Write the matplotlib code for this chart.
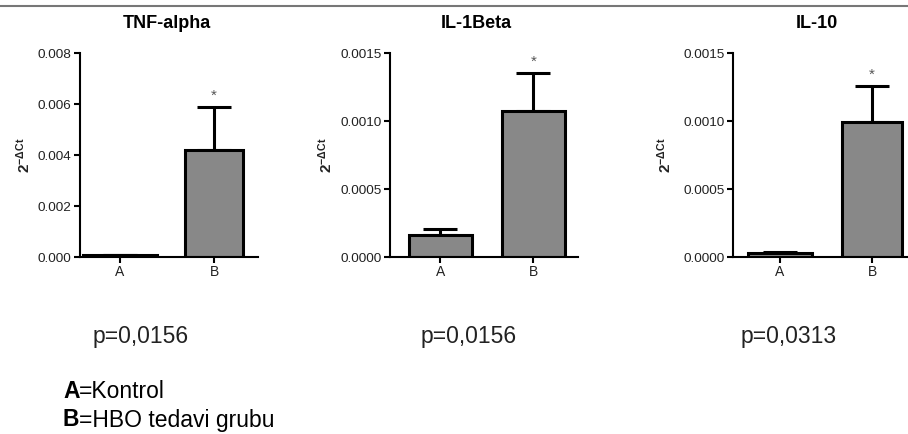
import numpy as np
import matplotlib.pyplot as plt
from matplotlib.lines import Line2D

plt.rcParams['font.family'] = ['Liberation Sans', 'DejaVu Sans']
plt.rcParams['mathtext.fontset'] = 'custom'
plt.rcParams['mathtext.rm'] = 'Liberation Sans'
plt.rcParams['mathtext.bf'] = 'Liberation Sans:bold'
plt.rcParams['mathtext.it'] = 'Liberation Sans'

#data
groups = ['A', 'B']
titles = ['TNF-alpha', 'IL-1Beta', 'IL-10']
means = [[0.00007, 0.0042], [0.000162, 0.00107], [0.00003, 0.000995]]
errors = [[0.00001, 0.00168], [0.000044, 0.00028], [0.00001, 0.000265]]
p_values = ['p=0,0156', 'p=0,0156', 'p=0,0313']
y_max = [0.008, 0.0015, 0.0015]
y_ticks = [[0.000, 0.002, 0.004, 0.006, 0.008],
           [0.0000, 0.0005, 0.0010, 0.0015],
           [0.0000, 0.0005, 0.0010, 0.0015]]
tick_fmt = ['%.3f', '%.4f', '%.4f']

#layout in pixels
W, H = 908, 434
fig = plt.figure(figsize=(W / 100, H / 100), dpi=100)
ax_left = [80, 390, 733]
ax_right = [258, 578, 908]
xlims = [(-0.426, 1.468), (-0.54, 1.48), (-0.51, 1.39)]
widths = [[0.79, 0.62], [0.68, 0.67], [0.69, 0.65]]
label_x = [33, 335, 674]
title_x = [167, 476, 817]
p_x = [93, 421, 741]

for i in range(3):
    ax = fig.add_axes([ax_left[i] / W, 1 - 257 / H, (ax_right[i] - ax_left[i]) / W, 204 / H])
    x = np.arange(len(groups))
    ax.bar(x, means[i], width=widths[i], color='#888888', edgecolor='black', linewidth=2.2, zorder=2)
    for j in range(2):
        ax.errorbar(x[j], means[i][j], yerr=[[0], [errors[i][j]]], fmt='none', ecolor='black',
                    elinewidth=2.2, capsize=12, capthick=2.2, zorder=1)
    # star above B
    ax.annotate('*', (x[1], means[i][1] + errors[i][1]), xytext=(0, 3), textcoords='offset points',
                ha='center', va='bottom', fontsize=11, color='#555555')
    ax.set_xlim(xlims[i])
    ax.set_ylim(0, y_max[i])
    ax.set_xticks(x)
    ax.set_xticklabels(groups, fontsize=10, color='#222222')
    ax.set_yticks(y_ticks[i])
    ax.set_yticklabels([tick_fmt[i] % v for v in y_ticks[i]], fontsize=9.7, color='#222222')
    ax.spines['top'].set_visible(False)
    ax.spines['right'].set_visible(False)
    ax.spines['left'].set_linewidth(1.5)
    ax.spines['bottom'].set_linewidth(1.5)
    ax.tick_params(length=4, width=1.5, pad=2)
    ax.set_ylabel(r'$\mathbf{2^{-\Delta Ct}}$', fontsize=11, color='#222222')
    ax.yaxis.set_label_coords((label_x[i] - ax_left[i]) / (ax_right[i] - ax_left[i]), 0.5)
    ax.patch.set_alpha(0)
    fig.text(title_x[i] / W, 1 - 28 / H, titles[i], fontsize=13, fontweight='bold', ha='center', va='baseline')
    fig.text(p_x[i] / W, 1 - 337 / H, p_values[i], fontsize=16.5, va='center', ha='left', color='#222222')

#legend text
fig.text(63 / W, 1 - 392 / H, 'A', fontsize=16.5, fontweight='bold', va='center', ha='left')
fig.text(79 / W, 1 - 392 / H, '=Kontrol', fontsize=16.5, va='center', ha='left')
fig.text(63 / W, 1 - 420 / H, 'B', fontsize=16.5, fontweight='bold', va='center', ha='left')
fig.text(79 / W, 1 - 420 / H, '=HBO tedavi grubu', fontsize=16.5, va='center', ha='left')

#top border line
fig.add_artist(Line2D([0, 1], [1 - 5.5 / H] * 2, transform=fig.transFigure, color='#777777', linewidth=1.5))

plt.savefig('out.png', dpi=100)
